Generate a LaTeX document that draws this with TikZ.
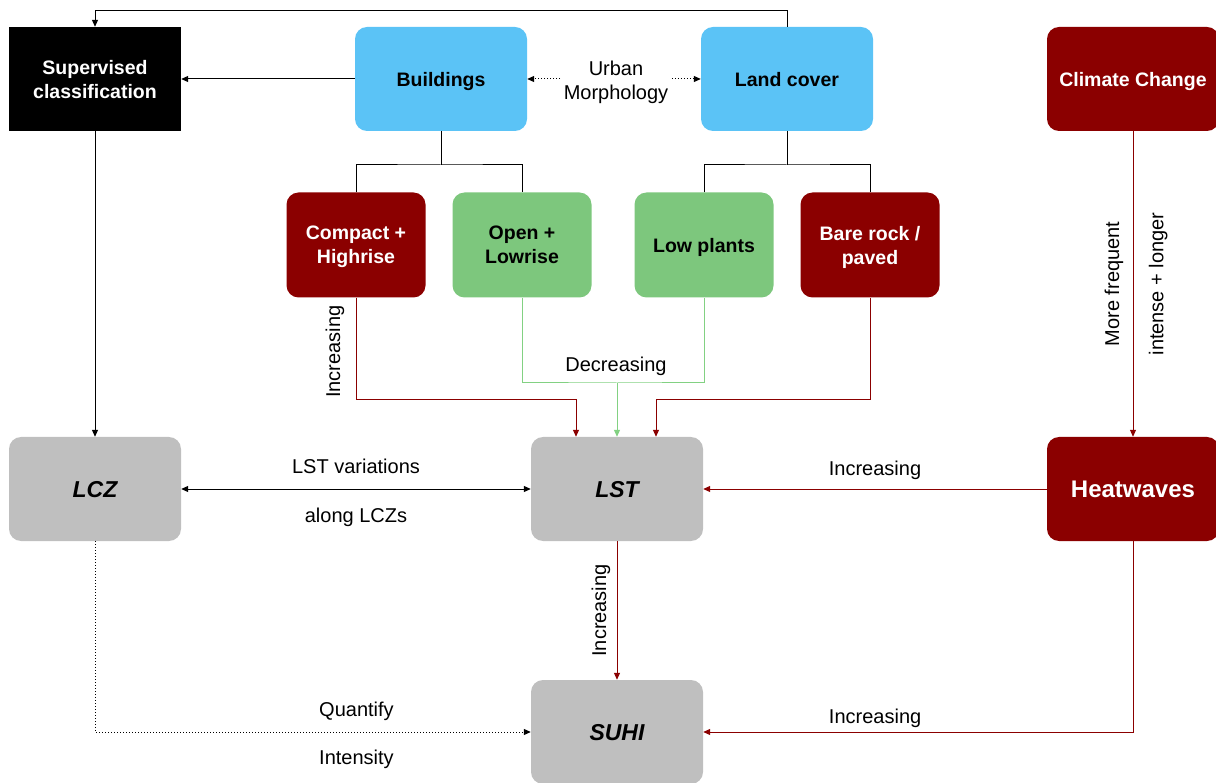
\documentclass[tikz,border=0pt]{standalone}
\usepackage{fontspec}
\setmainfont{Liberation Sans}
\usetikzlibrary{arrows.meta}
\definecolor{cblue}{HTML}{5BC3F6}
\definecolor{cred}{HTML}{8B0000}
\definecolor{cgreen}{HTML}{7DC77D}
\definecolor{cgline}{HTML}{82D182}
\definecolor{cgray}{HTML}{BFBFBF}
\tikzset{
  box/.style={rectangle, rounded corners=12pt, minimum width=172pt, minimum height=104pt,
    inner sep=2pt, align=center, text depth=-2pt, font=\fontsize{19.5}{24}\selectfont\bfseries},
  sbox/.style={box, minimum width=139pt, minimum height=105pt},
  bluebox/.style={box, fill=cblue, text=black},
  redbox/.style={box, fill=cred, text=white},
  graybox/.style={box, fill=cgray, text=black, font=\fontsize{23}{26}\selectfont\bfseries\itshape},
  lbl/.style={font=\fontsize{20}{24}\selectfont, text=black, align=center},
  conn/.style={line width=1pt, draw=black},
  redconn/.style={line width=1pt, draw=cred},
  greenconn/.style={line width=1pt, draw=cgline},
  tip/.style={-{Triangle[length=7pt,width=6pt]}},
  dtip/.style={{Triangle[length=7pt,width=6pt]}-{Triangle[length=7pt,width=6pt]}},
}
\begin{document}
\begin{tikzpicture}[x=1pt,y=-1pt]
\useasboundingbox (0,0) rectangle (1216,783);
% nodes
\node[box, fill=black, text=white, rounded corners=0pt] (sup) at (95,79) {Supervised\\classification};
\node[bluebox] (bld) at (441,79) {Buildings};
\node[bluebox] (land) at (787,79) {Land cover};
\node[redbox] (cc) at (1133,79) {Climate Change};
\node[lbl] (um) at (616,82) {Urban\\Morphology};
\node[sbox, fill=cred, text=white] (cmp) at (356,245) {Compact +\\Highrise};
\node[sbox, fill=cgreen, text=black] (opn) at (522,245) {Open +\\Lowrise};
\node[sbox, fill=cgreen, text=black] (low) at (704,245) {Low plants};
\node[sbox, fill=cred, text=white] (bare) at (870,245) {Bare rock /\\paved};
\node[graybox] (lcz) at (95,489) {LCZ};
\node[graybox] (lst) at (617,489) {LST};
\node[redbox, font=\fontsize{24}{26}\selectfont\bfseries] (hw) at (1133,489) {Heatwaves};
\node[graybox] (suhi) at (617,732) {SUHI};
% connectors top
\draw[conn,tip] (land.north) -- ++(0,-16) -| (sup.north);
\draw[conn,tip] (bld.west) -- (sup.east);
\draw[conn,dotted,tip] (bld.east -| um.west) -- (bld.east);
\draw[conn,dotted,tip] (land.west -| um.east) -- (land.west);
\coordinate (bj) at (441,165);
\coordinate (lj) at (787,165);
\draw[conn] (bld.south) -- (bj);
\draw[conn] (cmp.north) |- (bj) -| (opn.north);
\draw[conn] (land.south) -- (lj);
\draw[conn] (low.north) |- (lj) -| (bare.north);
% to LST
\draw[redconn,tip] (cmp.south) -- node[lbl, rotate=90, above=8pt, pos=0.53] (inc1) {Increasing} ++(0,102) -| ([xshift=-41pt]lst.north);
\coordinate (gj) at (617,383);
\draw[greenconn] (opn.south) |- (gj) -| (low.south);
\node[lbl, above=4pt] (dec) at (616,383) {Decreasing};
\draw[greenconn,tip] (gj) -- (lst.north);
\draw[redconn,tip] (bare.south) -- ++(0,102) -| ([xshift=39pt]lst.north);
% climate
\draw[redconn,tip] (cc.south) -- node[lbl, rotate=90, above=6pt] (mf) {More frequent}
  node[lbl, rotate=90, below=12pt] (il) {intense + longer} (hw.north);
\draw[redconn,tip] (hw.west) -- node[lbl, above=6pt] (inc2) {Increasing} (lst.east);
\draw[conn,dtip] (lcz.east) -- node[lbl, above=11pt] (lv) {LST variations}
  node[lbl, below=15pt] (al) {along LCZs} (lst.west);
\draw[conn,tip] (sup.south) -- (lcz.north);
\draw[redconn,tip] (lst.south) -- node[lbl, rotate=90, above=3pt] (inc3) {Increasing} (suhi.north);
\draw[conn,dotted,tip] (lcz.south) |- node[lbl, pos=0.8, above=8pt] (qf) {Quantify}
  node[lbl, pos=0.8, below=14pt] (it) {Intensity} (suhi.west);
\draw[redconn,tip] (hw.south) |- node[lbl, pos=0.8, above=1pt] (inc4) {Increasing} (suhi.east);
\end{tikzpicture}
\end{document}
